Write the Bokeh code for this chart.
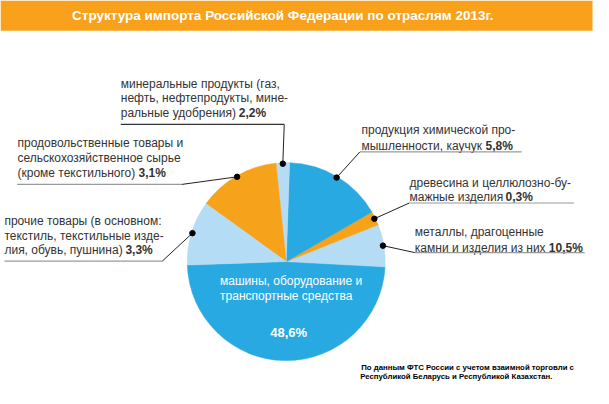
import math
from bokeh.plotting import figure
from bokeh.models import Range1d, ColumnDataSource
from bokeh.core.properties import value
from bokeh.embed import file_html
from bokeh.resources import INLINE

# ---------------- data ----------------
title = "Структура импорта Российской Федерации по отраслям 2013г."
categories = ["машины", "металлы", "древесина", "химия", "минеральные", "продовольствие", "прочие"]
shares = [48.6, 6.9, 2.3, 16.1, 2.2, 13.4, 10.5]          # slice sizes as drawn
slice_colors = ["#29A9E1", "#B4DDF5", "#F7A21B", "#29A9E1", "#B4DDF5", "#F7A21B", "#B4DDF5"]
label_lines = {
    "металлы": ["металлы, драгоценные", "камни и изделия из них "],
    "древесина": ["древесина и целлюлозно-бу-", "мажные изделия "],
    "химия": ["продукция химической про-", "мышленности, каучук "],
    "минеральные": ["минеральные продукты (газ,", "нефть, нефтепродукты, мине-", "ральные удобрения) "],
    "продовольствие": ["продовольственные товары и", "сельскохозяйственное сырье", "(кроме текстильного) "],
    "прочие": ["прочие товары (в основном:", "текстиль, текстильные изде-", "лия, обувь, пушнина) "],
}
label_pct = {"металлы": "10,5%", "древесина": "0,3%", "химия": "5,8%",
             "минеральные": "2,2%", "продовольствие": "3,1%", "прочие": "3,3%"}
main_lines = ["машины, оборудование и", "транспортные средства"]
main_pct = "48,6%"
note_lines = ["По данным ФТС России с учетом взаимной торговли с",
              "Республикой Беларусь и Республикой Казахстан."]

# ---------------- layout ----------------
XR, YR = 605, 396
W, H = 593, 388
def Y(y):
    return YR - y

FONT = "Liberation Sans"
TXT = "#333333"
cx, cy, r_ref = 291.5, 266.5, 101
scale = W / XR
start_deg = 182.0

lay = {
    "минеральные": dict(x=122.7, y0=85, step=15, boff=118, uy=126.5, ux0=122.7, ux1=289.5, ax=289.5, ucol="#333333"),
    "продовольствие": dict(x=17.3, y0=145, step=15.7, boff=121, uy=187.7, ux0=17, ux1=185, ax=185, ucol="#9A9A9A"),
    "прочие": dict(x=4, y0=225, step=15, boff=121, uy=266, ux0=4, ux1=165, ax=165, ucol="#9A9A9A"),
    "химия": dict(x=368.3, y0=132.3, step=16, boff=124, uy=154.5, ux0=366.7, ux1=531.7, ax=366.7, ucol="#9A9A9A"),
    "древесина": dict(x=417.3, y0=186, step=14.5, boff=96, uy=206.7, ux0=417, ux1=585, ax=417, ucol="#9A9A9A"),
    "металлы": dict(x=422.7, y0=236.7, step=16, boff=134, uy=257.3, ux0=422.7, ux1=596, ax=422.7, ucol="#9A9A9A"),
}

p = figure(width=W, height=H, x_range=Range1d(0, XR), y_range=Range1d(0, YR),
           output_backend="svg", toolbar_location=None, min_border=0)
p.axis.visible = False
p.grid.visible = False
p.outline_line_color = None
p.background_fill_color = "white"

# title bar
p.quad(left=0, right=604, top=Y(0), bottom=Y(31), fill_color="#F9A11B", line_color=None)
p.text(x=[288], y=[Y(15)], text=[title], text_color="white", text_font=value(FONT),
       text_font_size="13.5px", text_font_style="bold", text_align="center", text_baseline="middle")

# pie
starts, ends, mids = [], [], []
a = start_deg
for s in shares:
    span = s / sum(shares) * 360.0
    starts.append(math.radians(a))
    ends.append(math.radians(a + span))
    mids.append(a + span / 2)
    a += span
src = ColumnDataSource(dict(start=starts, end=ends, color=slice_colors))
p.wedge(x=cx, y=Y(cy), radius=r_ref * scale, radius_units="screen",
        start_angle="start", end_angle="end", direction="anticlock",
        fill_color="color", line_color="color", line_width=0.5, source=src)

# labels with leader lines
for cat, mid in zip(categories, mids):
    if cat not in lay:
        continue
    L = lay[cat]
    dx = cx + (r_ref - 1) * math.cos(math.radians(mid))
    dy = cy - (r_ref - 1) * math.sin(math.radians(mid))
    lines = label_lines[cat]
    ys = [L["y0"] + i * L["step"] for i in range(len(lines))]
    p.text(x=[L["x"]] * len(lines), y=[Y(v) for v in ys], text=lines, text_color=TXT,
           text_font=value(FONT), text_font_size="12px", text_baseline="middle", text_align="left")
    p.text(x=[L["x"]], y=[Y(ys[-1])], text=[label_pct[cat]], x_offset=L["boff"], text_color=TXT,
           text_font=value(FONT), text_font_size="12px", text_font_style="bold",
           text_baseline="middle", text_align="left")
    p.segment(x0=[L["ux0"]], y0=[Y(L["uy"])], x1=[L["ux1"]], y1=[Y(L["uy"])],
              line_color=L["ucol"], line_width=1.2)
    p.segment(x0=[dx], y0=[Y(dy)], x1=[L["ax"]], y1=[Y(L["uy"])], line_color="#222222", line_width=1)
    p.scatter(x=[dx], y=[Y(dy)], size=5.5, fill_color="black", line_color="black")

# inner text
p.text(x=[224, 224], y=[Y(286.7), Y(301.7)], text=main_lines, text_color="white",
       text_font=value(FONT), text_font_size="12px", text_baseline="middle", text_align="left")
p.text(x=[294], y=[Y(339)], text=[main_pct], text_color="white", text_font=value(FONT),
       text_font_size="13px", text_font_style="bold", text_baseline="middle", text_align="center")

# footnote
p.text(x=[368, 367], y=[Y(374.7), Y(383.7)], text=note_lines, text_color="black",
       text_font=value(FONT), text_font_size="7.8px", text_font_style="bold",
       text_baseline="middle", text_align="left")

open("out.html", "w").write(file_html(p, INLINE))
